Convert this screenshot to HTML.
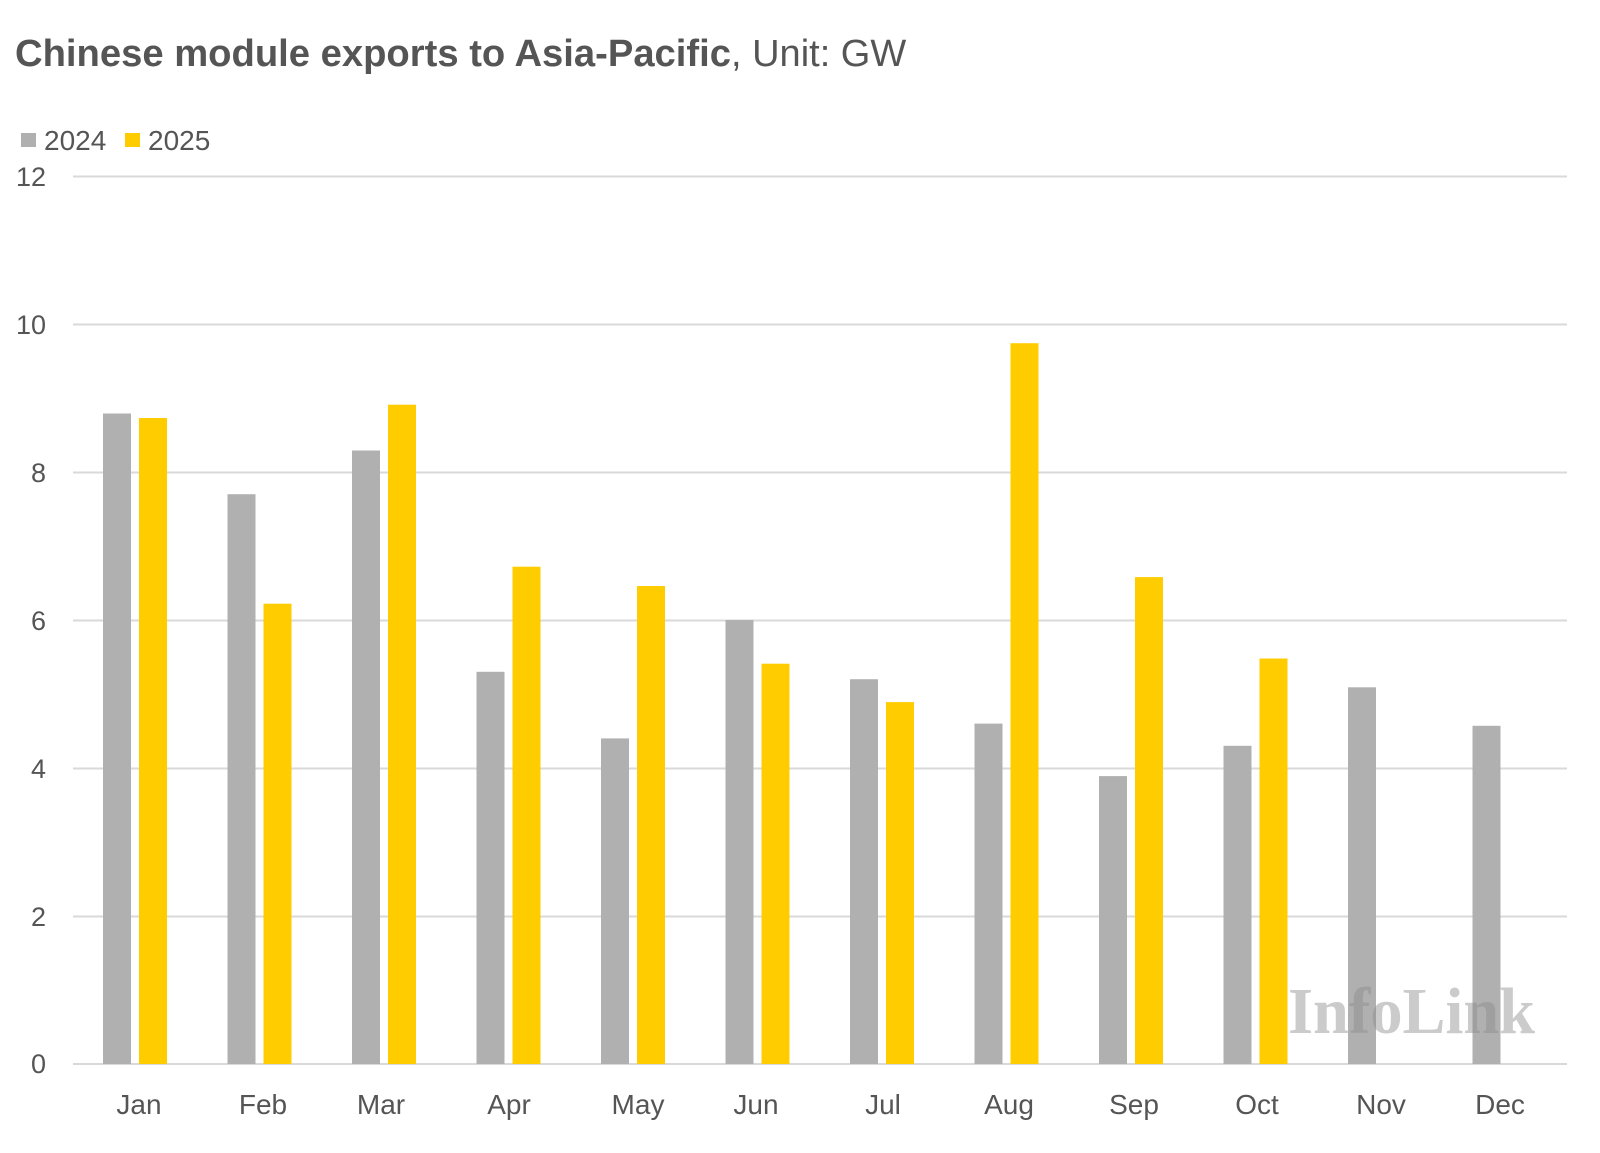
<!DOCTYPE html>
<html><head><meta charset="utf-8"><style>
html,body{margin:0;padding:0;background:#fff;}
svg{display:block;}
</style></head><body>
<svg width="1600" height="1153" viewBox="0 0 1600 1153" xmlns="http://www.w3.org/2000/svg" font-family="Liberation Sans, sans-serif">
<text x="15" y="66" font-size="38" fill="#555"><tspan font-weight="bold" textLength="716" lengthAdjust="spacingAndGlyphs">Chinese module exports to Asia-Pacific</tspan><tspan>, Unit: GW</tspan></text>
<rect x="21" y="133" width="15" height="14" fill="#b0b0b0"/>
<text x="44" y="150" font-size="28" fill="#555">2024</text>
<rect x="125" y="133" width="15" height="14" fill="#ffcc00"/>
<text x="148" y="150" font-size="28" fill="#555">2025</text>
<g stroke="#d9d9d9" stroke-width="2">
<line x1="73" x2="1567" y1="176.5" y2="176.5"/>
<line x1="73" x2="1567" y1="324.5" y2="324.5"/>
<line x1="73" x2="1567" y1="472.5" y2="472.5"/>
<line x1="73" x2="1567" y1="620.5" y2="620.5"/>
<line x1="73" x2="1567" y1="768.5" y2="768.5"/>
<line x1="73" x2="1567" y1="916.5" y2="916.5"/>
<line x1="73" x2="1567" y1="1064" y2="1064"/>
</g>
<g font-size="27" fill="#555" text-anchor="end">
<text x="46" y="186">12</text>
<text x="46" y="334">10</text>
<text x="46" y="482">8</text>
<text x="46" y="630">6</text>
<text x="46" y="778">4</text>
<text x="46" y="926">2</text>
<text x="46" y="1073">0</text>
</g>
<g fill="#b0b0b0">
<rect x="103" y="413.5" width="28" height="650.5"/>
<rect x="227.5" y="494.2" width="28" height="569.8"/>
<rect x="352" y="450.5" width="28" height="613.5"/>
<rect x="476.5" y="671.8" width="28" height="392.2"/>
<rect x="601" y="738.4" width="28" height="325.6"/>
<rect x="725.5" y="620" width="28" height="444"/>
<rect x="850" y="679.2" width="28" height="384.8"/>
<rect x="974.5" y="723.6" width="28" height="340.4"/>
<rect x="1099" y="776.1" width="28" height="287.9"/>
<rect x="1223.5" y="745.8" width="28" height="318.2"/>
<rect x="1348" y="687.3" width="28" height="376.7"/>
<rect x="1472.5" y="725.8" width="28" height="338.2"/>
</g>
<g fill="#ffcc00">
<rect x="139" y="418" width="28" height="646"/>
<rect x="263.5" y="603.7" width="28" height="460.3"/>
<rect x="388" y="404.7" width="28" height="659.3"/>
<rect x="512.5" y="566.7" width="28" height="497.3"/>
<rect x="637" y="586" width="28" height="478"/>
<rect x="761.5" y="663.7" width="28" height="400.3"/>
<rect x="886" y="702.1" width="28" height="361.9"/>
<rect x="1010.5" y="343.2" width="28" height="720.8"/>
<rect x="1135" y="577.1" width="28" height="486.9"/>
<rect x="1259.5" y="658.5" width="28" height="405.5"/>
</g>
<text x="1288" y="1033" font-family="Liberation Serif, serif" font-weight="bold" font-size="66" fill="rgba(140,140,140,0.45)" textLength="247" lengthAdjust="spacingAndGlyphs">InfoLink</text>
<g font-size="28" fill="#555" text-anchor="middle">
<text x="139" y="1114">Jan</text>
<text x="263" y="1114">Feb</text>
<text x="381" y="1114">Mar</text>
<text x="509" y="1114">Apr</text>
<text x="638" y="1114">May</text>
<text x="756" y="1114">Jun</text>
<text x="883" y="1114">Jul</text>
<text x="1009" y="1114">Aug</text>
<text x="1134" y="1114">Sep</text>
<text x="1257" y="1114">Oct</text>
<text x="1381" y="1114">Nov</text>
<text x="1500" y="1114">Dec</text>
</g>
</svg>
</body></html>
